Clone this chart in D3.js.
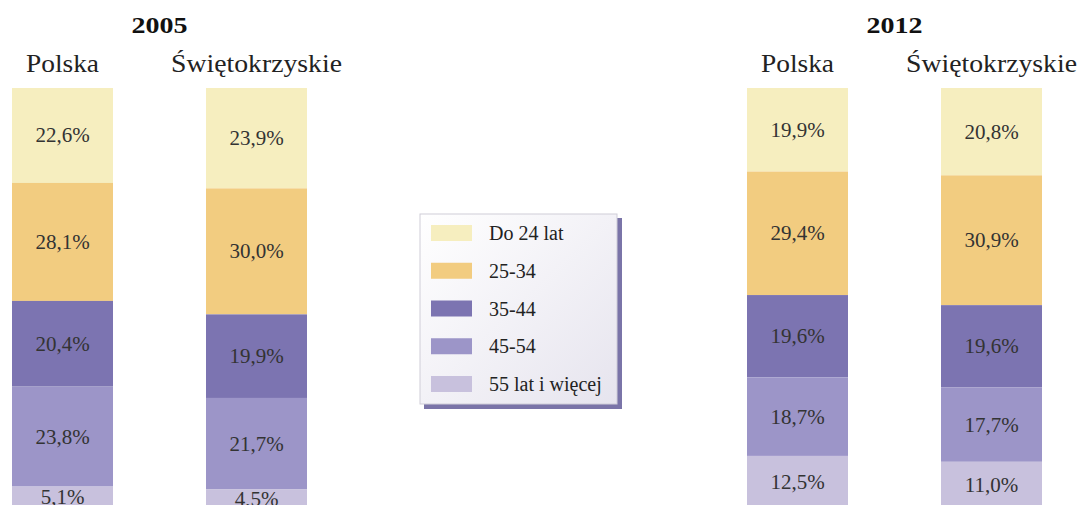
<!DOCTYPE html>
<html><head><meta charset="utf-8">
<script src="https://cdn.jsdelivr.net/npm/d3@7"></script>
<style>html,body{margin:0;padding:0;background:#fff;overflow:hidden}
text{font-family:"Liberation Serif","DejaVu Serif","Times New Roman",serif;}</style>
</head><body>
<svg id="chart" width="1083" height="505"></svg>
<script>
const years = ["2005", "2012"];
const regions = ["Polska", "Świętokrzyskie"];
const categories = ["Do 24 lat", "25-34", "35-44", "45-54", "55 lat i więcej"];
const polska2005 = [22.6, 28.1, 20.4, 23.8, 5.1];
const swiet2005 = [23.9, 30.0, 19.9, 21.7, 4.5];
const polska2012 = [19.9, 29.4, 19.6, 18.7, 12.5];
const swiet2012 = [20.8, 30.9, 19.6, 17.7, 11.0];
const colors = ["#f6eebf", "#f2cc80", "#7c74b1", "#9c95c8", "#c8c1dd"];

const data = [
  {year: "2005", region: "Polska", values: polska2005},
  {year: "2005", region: "Świętokrzyskie", values: swiet2005},
  {year: "2012", region: "Polska", values: polska2012},
  {year: "2012", region: "Świętokrzyskie", values: swiet2012}
];

const svg = d3.select("#chart");
const barW = 101;
const x0 = d3.scalePoint().domain(years).range([12, 747]);
const x1 = d3.scalePoint().domain(regions).range([0, 194]);
const y = d3.scaleLinear().domain([0, 100]).range([88, 508]);
const color = d3.scaleOrdinal().domain(categories).range(colors);
const fmt = v => d3.format(".1f")(v).replace(".", ",") + "%";

// Year titles
svg.selectAll("text.year").data(years).join("text")
  .attr("class", "year")
  .attr("x", d => x0(d) + (x1("Polska") + x1("Świętokrzyskie") + barW) / 2)
  .attr("y", 33)
  .attr("text-anchor", "middle")
  .attr("font-weight", "bold").attr("font-size", 23)
  .attr("textLength", 56).attr("lengthAdjust", "spacingAndGlyphs")
  .attr("fill", "#111")
  .text(d => d);

const cols = svg.selectAll("g.col").data(data).join("g")
  .attr("class", "col")
  .attr("transform", d => `translate(${x0(d.year) + x1(d.region)},0)`);

cols.append("text")
  .attr("x", barW / 2).attr("y", 72)
  .attr("text-anchor", "middle")
  .attr("font-size", 26)
  .attr("textLength", d => d.region === "Polska" ? 73 : 171)
  .attr("lengthAdjust", "spacingAndGlyphs")
  .attr("fill", "#222")
  .text(d => d.region);

cols.each(function(d) {
  const g = d3.select(this);
  let cum = 0;
  const segs = d.values.map((v, i) => {
    const s = {cat: categories[i], v, y0: cum, y1: cum + v};
    cum += v;
    return s;
  });
  g.selectAll("rect").data(segs).join("rect")
    .attr("x", 0).attr("width", barW)
    .attr("y", s => y(s.y0))
    .attr("height", s => y(s.y1) - y(s.y0))
    .attr("fill", s => color(s.cat));
  g.selectAll("text.val").data(segs).join("text")
    .attr("class", "val")
    .attr("x", barW / 2)
    .attr("y", s => (y(s.y0) + y(s.y1)) / 2 + 7)
    .attr("text-anchor", "middle")
    .attr("font-size", 21)
    .attr("fill", "#333")
    .text(s => fmt(s.v));
});

// Legend
const lg = svg.append("g").attr("transform", "translate(420,214)");
const defs = svg.append("defs");
const grad = defs.append("linearGradient").attr("id", "lgGrad")
  .attr("x1", 0).attr("y1", 0).attr("x2", 1).attr("y2", 1);
grad.append("stop").attr("offset", "0%").attr("stop-color", "#ffffff");
grad.append("stop").attr("offset", "100%").attr("stop-color", "#e6e4ee");
lg.append("rect").attr("x", 4).attr("y", 4).attr("width", 198).attr("height", 191)
  .attr("fill", "#7a74a8");
lg.append("rect").attr("x", 0).attr("y", 0).attr("width", 197).attr("height", 190)
  .attr("fill", "url(#lgGrad)").attr("stroke", "#cfcdd8").attr("stroke-width", 1);
const ly = d3.scalePoint().domain(categories).range([11, 162]);
lg.selectAll("rect.sw").data(categories).join("rect")
  .attr("class", "sw")
  .attr("x", 11).attr("y", d => ly(d))
  .attr("width", 41).attr("height", 16)
  .attr("fill", d => color(d));
lg.selectAll("text.lt").data(categories).join("text")
  .attr("class", "lt")
  .attr("x", 69).attr("y", d => ly(d) + 15)
  .attr("font-size", 20)
  .attr("fill", "#222")
  .text(d => d);
</script>
</body></html>
